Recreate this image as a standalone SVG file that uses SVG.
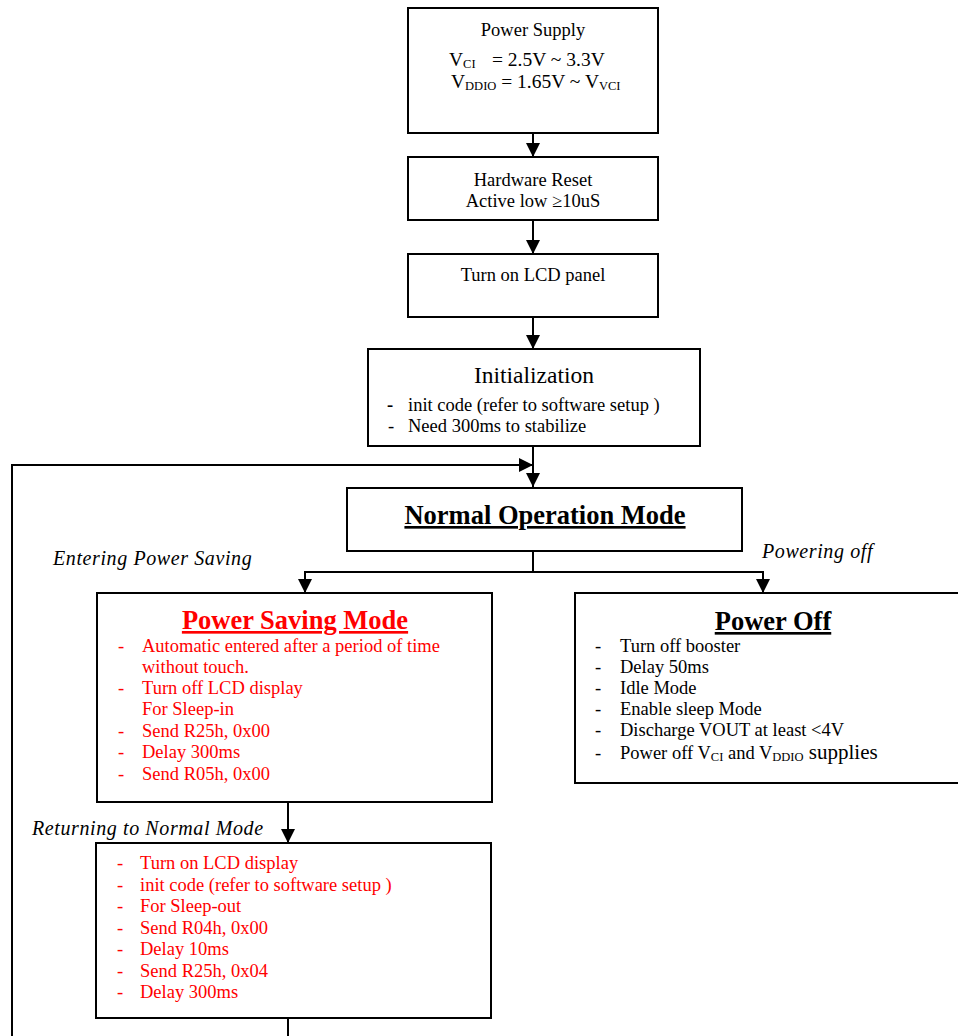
<svg xmlns="http://www.w3.org/2000/svg" width="958" height="1036" viewBox="0 0 958 1036">
<style>
.box{fill:#fff;stroke:#000;stroke-width:2}
.t{font-family:"Liberation Serif","Times New Roman",serif;font-size:18.5px;fill:#000}
.c{text-anchor:middle}
.r{fill:#ff0000}
.h{font-weight:bold;font-size:26.5px;text-decoration:underline}
.i{font-style:italic;font-size:20px;letter-spacing:0.6px}
.sub{font-size:12.5px}
.ln{fill:none;stroke:#000;stroke-width:2}
</style>
<defs>
<marker id="ah" markerUnits="userSpaceOnUse" markerWidth="15" markerHeight="14" refX="14" refY="7" orient="auto">
<path d="M0,0 L14,7 L0,14 z" fill="#000"/>
</marker>
</defs>
<g id="connectors">
<path class="ln" d="M533 133 V157" marker-end="url(#ah)"/>
<path class="ln" d="M533 220 V254" marker-end="url(#ah)"/>
<path class="ln" d="M533 317 V349" marker-end="url(#ah)"/>
<path class="ln" d="M533 446 V487" marker-end="url(#ah)"/>
<path class="ln" d="M12 1036 V465 H533" marker-end="url(#ah)"/>
<path class="ln" d="M533 551 V572"/>
<path class="ln" d="M533 572 H305 V593" marker-end="url(#ah)"/>
<path class="ln" d="M533 572 H763 V593" marker-end="url(#ah)"/>
<path class="ln" d="M288 802 V843" marker-end="url(#ah)"/>
<path class="ln" d="M288 1018 V1036"/>
</g>
<g id="power-supply">
<rect class="box" x="408" y="8" width="250" height="125"/>
<text class="t c" x="533" y="36">Power Supply</text>
<text class="t" x="449" y="66" style="font-size:19.5px">V<tspan class="sub" dy="2">CI</tspan><tspan x="492" dy="-2">= 2.5V ~ 3.3V</tspan></text>
<text class="t" x="451" y="88" style="font-size:19.5px">V<tspan class="sub" dy="2">DDIO</tspan><tspan dy="-2"> = 1.65V ~ V</tspan><tspan class="sub" dy="2">VCI</tspan></text>
</g>
<g id="hardware-reset">
<rect class="box" x="408" y="157" width="250" height="63"/>
<text class="t c" x="533" y="186">Hardware Reset</text>
<text class="t c" x="533" y="207">Active low ≥10uS</text>
</g>
<g id="turn-on-lcd">
<rect class="box" x="408" y="254" width="250" height="63"/>
<text class="t c" x="533" y="281">Turn on LCD panel</text>
</g>
<g id="initialization">
<rect class="box" x="368" y="349" width="332" height="97"/>
<text class="t c" x="534" y="383" style="font-size:23.5px">Initialization</text>
<text class="t" x="387" y="411" style="font-weight:bold">-</text>
<text class="t" x="408" y="411">init code (refer to software setup )</text>
<text class="t" x="388" y="432">-</text>
<text class="t" x="408" y="432">Need 300ms to stabilize</text>
</g>
<g id="normal-operation">
<rect class="box" x="347" y="488" width="395" height="63"/>
<text class="t c h" x="545" y="524">Normal Operation Mode</text>
</g>
<g id="labels">
<text class="t i" x="53" y="565">Entering Power Saving</text>
<text class="t i" x="762" y="558">Powering off</text>
<text class="t i" x="32" y="835">Returning to Normal Mode</text>
</g>
<g id="power-saving">
<rect class="box" x="97" y="593" width="395" height="209"/>
<text class="t c h r" x="295" y="629">Power Saving Mode</text>
<g class="t r">
<text x="118" y="652">-</text><text x="142" y="652">Automatic entered after a period of time</text>
<text x="142" y="673">without touch.</text>
<text x="118" y="694">-</text><text x="142" y="694">Turn off LCD display</text>
<text x="142" y="715">For Sleep-in</text>
<text x="118" y="737">-</text><text x="142" y="737">Send R25h, 0x00</text>
<text x="118" y="758">-</text><text x="142" y="758">Delay 300ms</text>
<text x="118" y="780">-</text><text x="142" y="780">Send R05h, 0x00</text>
</g>
</g>
<g id="power-off">
<rect class="box" x="575" y="593" width="390" height="190"/>
<text class="t c h" x="773" y="630">Power Off</text>
<g class="t">
<text x="595" y="652">-</text><text x="620" y="652">Turn off booster</text>
<text x="595" y="673">-</text><text x="620" y="673">Delay 50ms</text>
<text x="595" y="694">-</text><text x="620" y="694">Idle Mode</text>
<text x="595" y="715">-</text><text x="620" y="715">Enable sleep Mode</text>
<text x="595" y="736">-</text><text x="620" y="736">Discharge VOUT at least &lt;4V</text>
<text x="595" y="759">-</text><text x="620" y="759">Power off V<tspan class="sub" dy="2">CI</tspan><tspan dy="-2"> and V</tspan><tspan class="sub" dy="2">DDIO</tspan><tspan dy="-2" style="font-size:21px"> supplies</tspan></text>
</g>
</g>
<g id="returning">
<rect class="box" x="96" y="843" width="395" height="175"/>
<g class="t r">
<text x="117" y="869">-</text><text x="140" y="869">Turn on LCD display</text>
<text x="117" y="891">-</text><text x="140" y="891">init code (refer to software setup )</text>
<text x="117" y="912">-</text><text x="140" y="912">For Sleep-out</text>
<text x="117" y="934">-</text><text x="140" y="934">Send R04h, 0x00</text>
<text x="117" y="955">-</text><text x="140" y="955">Delay 10ms</text>
<text x="117" y="977">-</text><text x="140" y="977">Send R25h, 0x04</text>
<text x="117" y="998">-</text><text x="140" y="998">Delay 300ms</text>
</g>
</g>
</svg>
